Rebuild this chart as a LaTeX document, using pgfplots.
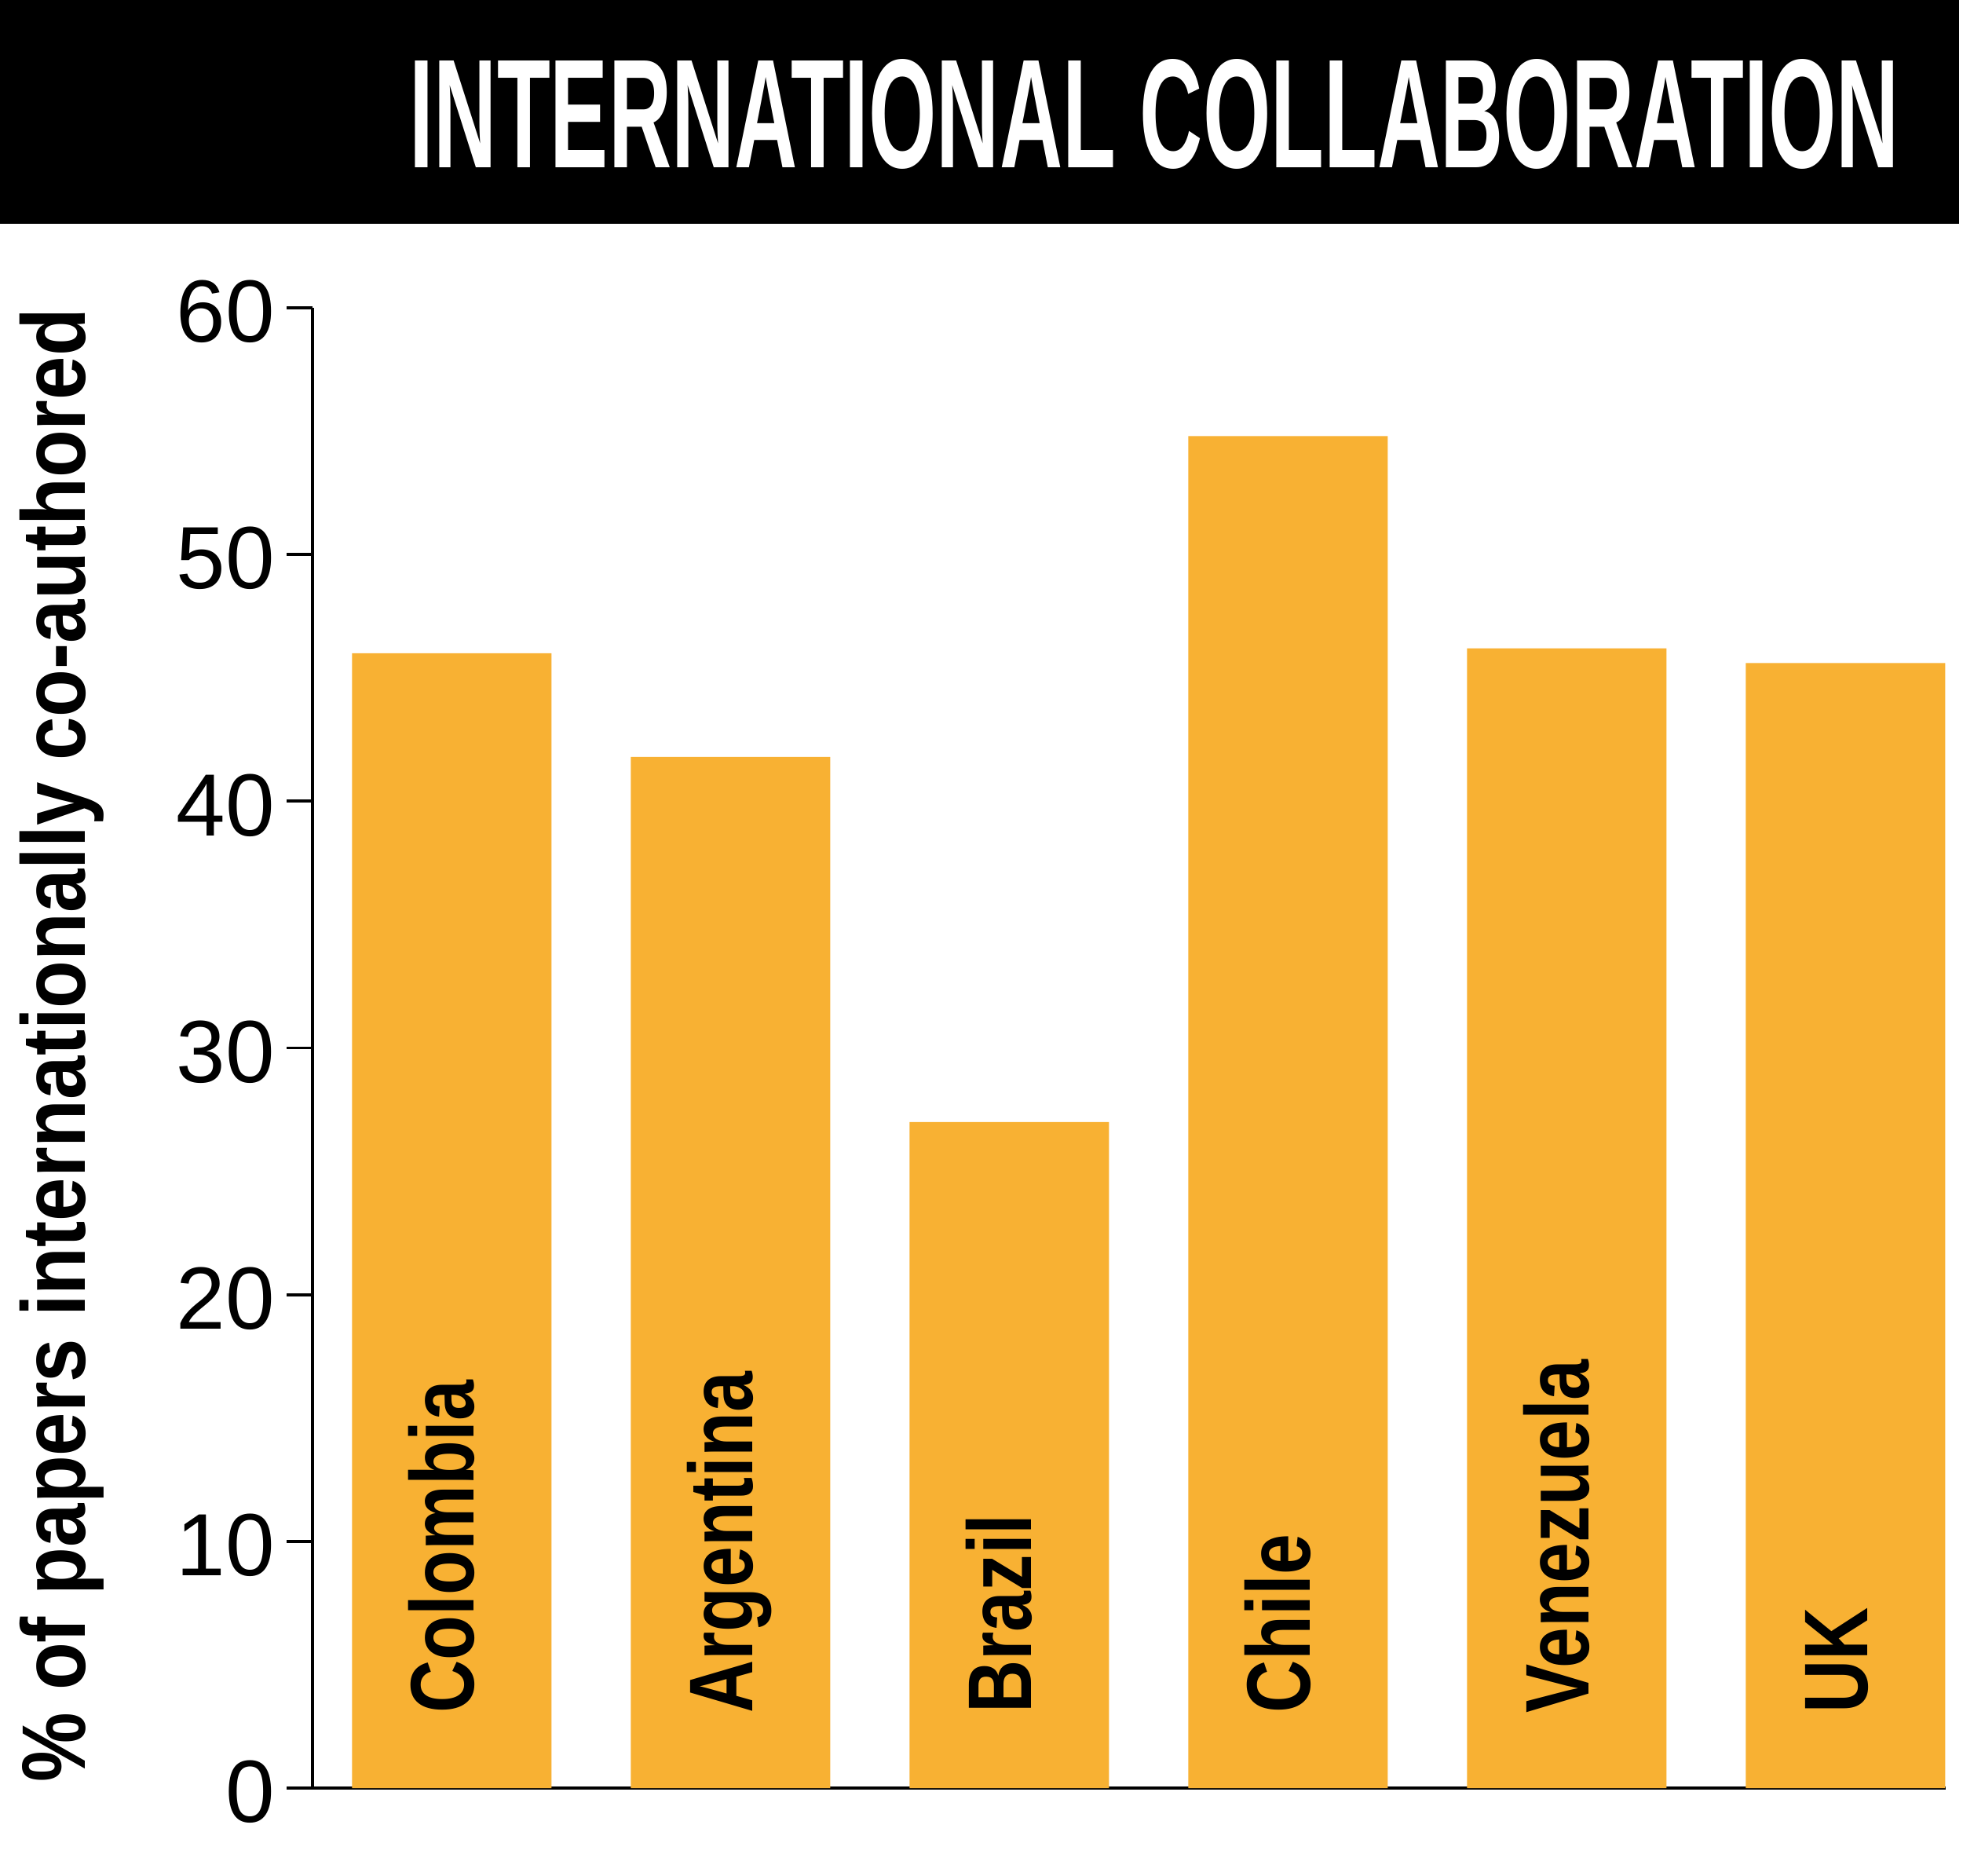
\documentclass[border=0pt]{standalone}
\usepackage{fontspec}
\setmainfont{Liberation Sans}
\newfontfamily\condb{Liberation Sans}[FakeStretch=0.81]
\newfontfamily\condy{Liberation Sans}[FakeStretch=0.866]
\usepackage{graphicx}
\usepackage{pgfplots}
\pgfplotsset{compat=1.18}
\definecolor{barorange}{HTML}{F8B133}
\begin{document}
\begin{tikzpicture}
\useasboundingbox (0,0) rectangle (500pt,477.6pt);
\fill[black] (0,420.6pt) rectangle (499pt,477.6pt);
\node[anchor=base east, inner sep=0pt, text=white] at (484pt,435pt)
  {\resizebox{379.4pt}{27.6pt}{\bfseries INTERNATIONAL COLLABORATION}};
\node[rotate=90, anchor=base west, inner sep=0pt] at (21.6pt,23.6pt)
  {\condy\bfseries\fontsize{23}{27}\selectfont \% of papers internationally co-authored};
\begin{axis}[
  at={(79.6pt,22.2pt)}, anchor=south west,
  scale only axis, width=416pt, height=377pt,
  xmin=-0.5, xmax=5.36, ymin=0, ymax=60,
  axis x line*=bottom, axis y line*=left,
  axis line style={line width=0.75pt, black},
  xtick=\empty,
  ytick={0,10,20,30,40,50,60},
  tick align=outside,
  major tick length=6.6pt,
  every tick/.style={line width=0.75pt, black},
  /pgf/number format/assume math mode=true,
  yticklabel style={font=\fontsize{22.5}{27}\selectfont, inner sep=0pt, xshift=-2.8pt, yshift=-1pt},
  clip=false,
]
\addplot[ybar, bar width=50.8pt, fill=barorange, draw=none] coordinates {
  (0,46.0) (1,41.8) (2,27.0) (3,54.8) (4,46.2) (5,45.6)
};
\foreach \i/\n in {0/Colombia,1/Argentina,2/Brazil,3/Chile,4/Venezuela,5/UK}{
  \edef\temp{\noexpand\node[rotate=90, anchor=base west, inner sep=0pt] at (axis cs:\i+0.079,3.0)
    {\noexpand\condb\noexpand\bfseries\noexpand\fontsize{23}{27}\noexpand\selectfont \n};}
  \temp
}
\end{axis}
\end{tikzpicture}
\end{document}
